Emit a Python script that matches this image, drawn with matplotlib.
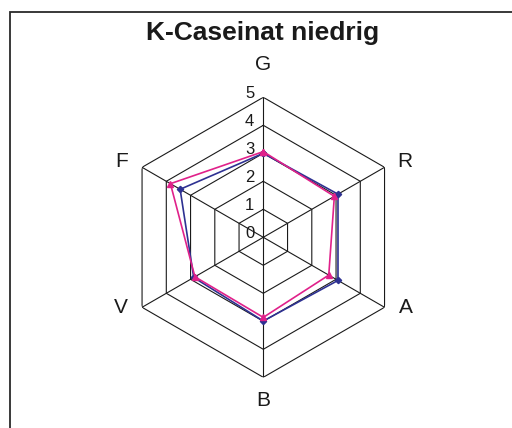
import numpy as np
import matplotlib
matplotlib.use("Agg")
import matplotlib.pyplot as plt
from matplotlib.patches import Rectangle

plt.rcParams['font.family'] = ['Liberation Sans', 'DejaVu Sans']

# data
categories = ['G', 'R', 'A', 'B', 'V', 'F']
series_blue = [3.0, 3.08, 3.08, 2.99, 2.87, 3.43]
series_pink = [3.06, 2.93, 2.70, 2.86, 2.82, 3.83]
ring_values = [0, 1, 2, 3, 4, 5]
title = 'K-Caseinat niedrig'

# label offsets (pixels) from the outer ring vertex
label_offsets = [(0, 33), (20.5, 6), (21.5, 0), (0, -23), (-21.5, 0), (-20.5, 6)]

W, H, DPI = 512, 428, 100
fig = plt.figure(figsize=(W / DPI, H / DPI), dpi=DPI)
px = 72.0 / DPI

# outer frame, open on right/bottom (cut by the image edge)
fig.patches.append(Rectangle((10 / W, -0.05), 1.1, (H - 12) / H + 0.05,
                             transform=fig.transFigure, fill=False,
                             edgecolor='#2a2a2a', linewidth=1.3))

fig.text(263 / W, 1 - 33 / H, title, ha='center', va='center',
         fontsize=19, fontweight='bold', color='#1a1a1a')

# polar axes: centre (263.3, 237.3) px, radius 140 px for r=5
cx, cy, rad = 263.3, 237.3, 140.0
ax = fig.add_axes([(cx - rad) / W, (H - cy - rad) / H, 2 * rad / W, 2 * rad / H],
                  projection='polar')
ax.set_theta_offset(np.pi / 2)
ax.set_theta_direction(-1)
ax.set_ylim(0, 5)
ax.grid(False)
ax.spines['polar'].set_visible(False)
ax.set_xticks([])
ax.set_yticks([])
ax.patch.set_alpha(0)

n = len(categories)
angles = np.linspace(0, 2 * np.pi, n, endpoint=False)
closed = np.append(angles, angles[0])

# hexagonal grid
for r in ring_values[1:]:
    ax.plot(closed, [r] * (n + 1), color='#1a1a1a', linewidth=0.8, zorder=1)
for a in angles:
    ax.plot([a, a], [0, ring_values[-1]], color='#1a1a1a', linewidth=0.8, zorder=1)

# ring value labels along the top spoke
for r in ring_values:
    ax.annotate(str(r), xy=(0, r), xytext=(-7 * px * 1.3, 3 * px * 1.3),
                textcoords='offset points', ha='right', va='center',
                fontsize=12, color='#1a1a1a')

# category labels
for a, lab, (dx, dy) in zip(angles, categories, label_offsets):
    ax.annotate(lab, xy=(a, ring_values[-1]), xytext=(dx * px, dy * px),
                textcoords='offset points', ha='center', va='center',
                fontsize=15, color='#1a1a1a', annotation_clip=False)

ax.plot(closed, series_blue + series_blue[:1], color='#2e3192', linewidth=1.2,
        marker='D', markersize=3.2, zorder=3, clip_on=False)
ax.plot(closed, series_pink + series_pink[:1], color='#e0218a', linewidth=1.2,
        marker='^', markersize=3.8, zorder=4, clip_on=False)

fig.savefig('out.png', dpi=DPI)
